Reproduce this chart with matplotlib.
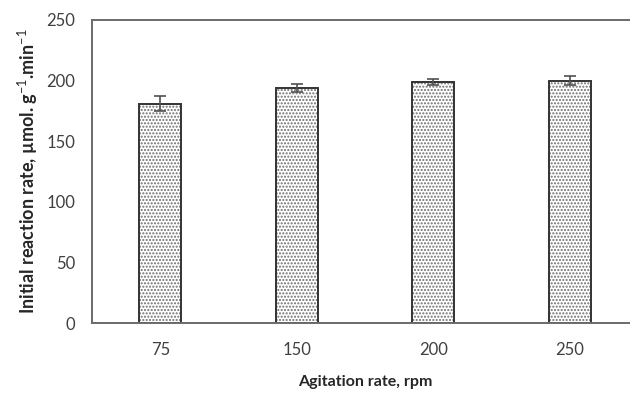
import matplotlib.pyplot as plt
import numpy as np

plt.rcParams['font.family'] = ['Lato', 'DejaVu Sans']
plt.rcParams['mathtext.fontset'] = 'custom'
plt.rcParams['mathtext.rm'] = 'Lato'
plt.rcParams['mathtext.bf'] = 'Lato:bold'

# data
agitation = ['75', '150', '200', '250']
rate = [181, 194, 198.5, 200]
rate_err = [6, 3.5, 2.5, 3.5]

fig = plt.figure(figsize=(6.3, 3.94), dpi=100)
ax = fig.add_axes([92 / 630, 71 / 394, 546 / 630, 303 / 394])

x = np.arange(len(agitation))
width = 0.31

# dotted fill, then dark outline on top
ax.bar(x, rate, width=width, color='white', edgecolor='#6e6e6e',
       hatch='.....', linewidth=0)
ax.bar(x, rate, width=width, fill=False, edgecolor='#333333', linewidth=1.4,
       yerr=rate_err, error_kw=dict(ecolor='#505050', elinewidth=1.2,
                                    capsize=4, capthick=1.2))

ax.set_xlim(-0.5, 3.5)
ax.set_ylim(0, 250)
ax.set_yticks(range(0, 251, 50))
ax.set_xticks(x)
ax.set_xticklabels(agitation)
ax.tick_params(length=0, labelsize=12, colors='#404040')
ax.tick_params(axis='y', pad=12)
ax.tick_params(axis='x', pad=14)

for s in ax.spines.values():
    s.set_color('#6a6a6a')
    s.set_linewidth(1.4)

ax.set_xlabel('Agitation rate, rpm', fontsize=11.5, fontweight='bold',
              color='#262626', labelpad=12)
ax.set_ylabel(r'Initial reaction rate, µmol. g$^{-1}$.min$^{-1}$', fontsize=13,
              fontweight='bold', color='#262626', labelpad=5)

fig.savefig('out.png', dpi=100)
